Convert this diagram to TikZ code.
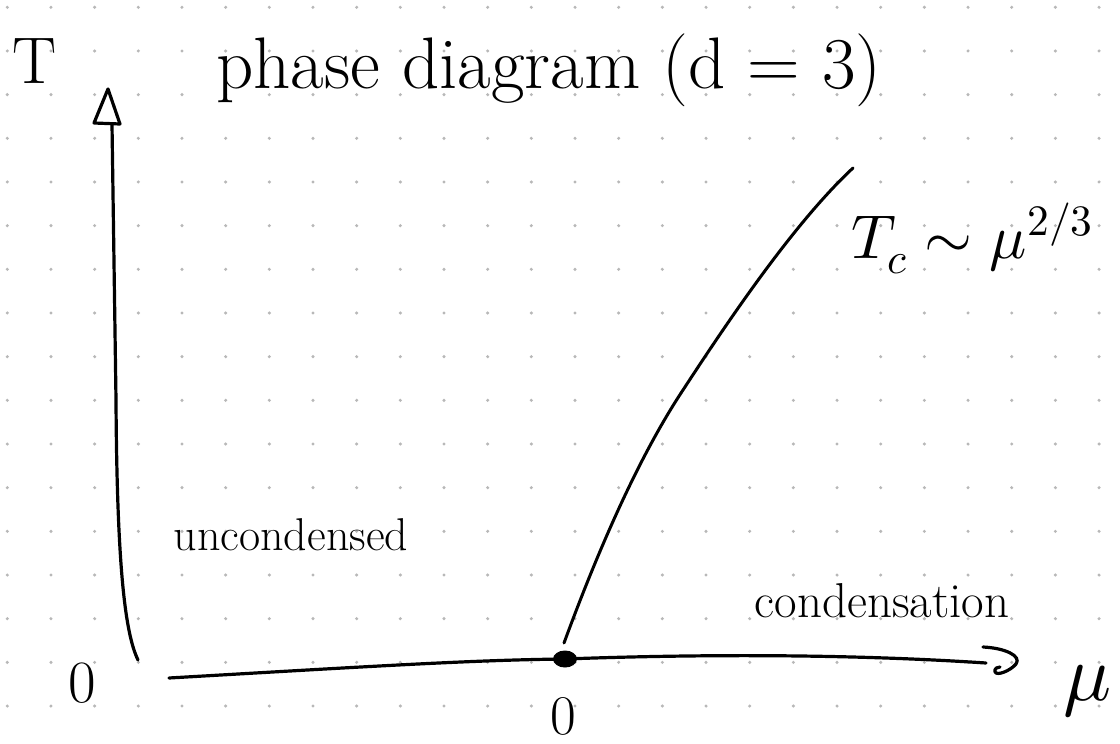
\documentclass[tikz,border=0pt]{standalone}
\usepackage{unicode-math}
\setmathfont{Latin Modern Math}
\usetikzlibrary{shapes.geometric}
\begin{document}
\begin{tikzpicture}[x=1pt,y=-1pt,line cap=round,line join=round,
  ink/.style={line width=3.2pt,black},
  txt/.style={inner sep=0pt,anchor=base},
  griddot/.style={fill=black!28}]
\useasboundingbox (0,0) rectangle (1120,744);
\fill[white] (0,0) rectangle (1120,744);
\foreach \i in {0,...,25}{\foreach \j in {0,...,16}{\fill[griddot] (7.3+43.67*\i,7.3+43.67*\j) circle (1.7);}}
% labels
\node[txt,font=\fontsize{66}{70}\selectfont] (T) at (35,83) {T};
\node[txt,font=\fontsize{73}{76}\selectfont] (title) at (549,88) {phase diagram (d = 3)};
\node[txt,font=\fontsize{62}{66}\selectfont] (tc) at (972,258) {$T_c \sim \mu^{2/3}$};
\node[txt,font=\fontsize{46}{50}\selectfont] (unc) at (291,550) {uncondensed};
\node[txt,font=\fontsize{49}{52}\selectfont] (cond) at (882,617) {condensation};
\node[txt,font=\fontsize{80}{84}\selectfont] (mu) at (1088,700) {$\mu$};
\node[txt,font=\fontsize{60}{64}\selectfont] (zl) at (82,702) {0};
\node[txt,font=\fontsize{56}{60}\selectfont] (zb) at (563,734) {0};
% T axis
\coordinate (yb) at (138,660);
\coordinate (yt) at (112,124);
\coordinate (ytip) at (108,89);
\draw[ink] (yb) .. controls (126,635) and (117,575) .. (116,400) -- (yt);
\draw[ink] (ytip) -- (94,123) -- (120,124) -- cycle;
% mu axis
\node[ellipse,fill=black,minimum width=24pt,minimum height=17pt,inner sep=0pt] (o) at (565,659) {};
\coordinate (xb) at (169,678);
\coordinate (xe) at (986,663);
\draw[ink] (xb) .. controls (360,667) and (470,660) .. (o.center) .. controls (700,654) and (850,654) .. (xe);
\draw[ink] (983,647) .. controls (1005,648) and (1022,656) .. (1016,664) .. controls (1010,671) and (997,676) .. (995,672) .. controls (994,668) and (998,667) .. (1000,667);
% critical line
\coordinate (cb) at (564,643);
\coordinate (ct) at (853,168);
\draw[line width=3pt] (cb) .. controls (600,545) and (640,455) .. (683,390) .. controls (730,318) and (795,222) .. (ct);
\end{tikzpicture}
\end{document}
